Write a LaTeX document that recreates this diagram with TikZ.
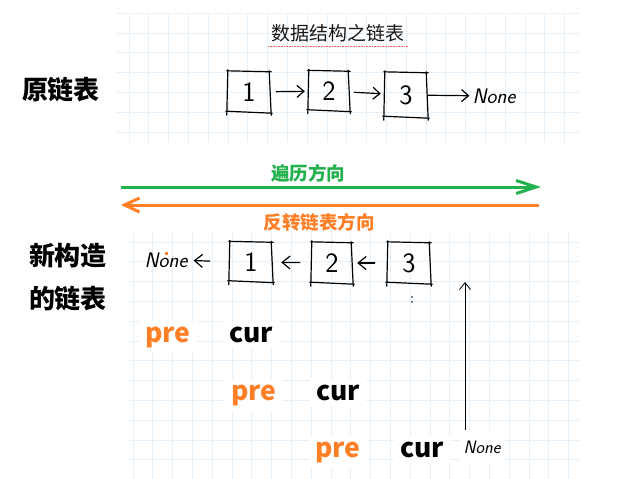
\documentclass[tikz,border=0pt]{standalone}
\usepackage{fontspec}
\newfontfamily\cjk{Noto Sans CJK SC}
\usetikzlibrary{arrows.meta,positioning}
\definecolor{tgreen}{RGB}{34,177,76}
\definecolor{torange}{RGB}{255,127,39}
\definecolor{gridblue}{RGB}{228,240,250}
\definecolor{titlegray}{RGB}{25,25,25}

\tikzset{
  hand/.style={line width=1.2pt, line cap=round, draw=black},
  sbox/.style={minimum width=40pt, minimum height=39pt, inner sep=0pt,
    font=\sffamily\fontsize{28}{28}\selectfont,
    append after command={\pgfextra{\let\bx\tikzlastnode}
      ([shift={(-1pt,1pt)}]\bx.north west) edge[hand] ([shift={(1pt,0pt)}]\bx.north east)
      ([shift={(0pt,2pt)}]\bx.north west) edge[hand] ([shift={(-1pt,-3pt)}]\bx.south west)
      ([shift={(-1pt,1pt)}]\bx.north east) edge[hand] ([shift={(1pt,-3pt)}]\bx.south east)
      ([shift={(-2pt,1pt)}]\bx.south west) edge[hand] ([shift={(2pt,-1pt)}]\bx.south east)}},
  handtext/.style={font=\sffamily\itshape\fontsize{21}{21}\selectfont, inner sep=1pt},
  harrow/.style={hand, -{Straight Barb[length=7pt,width=12pt]}},
  larrow/.style={hand, -{Straight Barb[length=8pt,width=13pt]}},
  heading/.style={font=\cjk\bfseries\fontsize{26}{26}\selectfont},
  dirlabel/.style={font=\cjk\bfseries\fontsize{18.5}{18.5}\selectfont},
  ptr/.style={font=\cjk\bfseries\fontsize{26.5}{26.5}\selectfont, fill=white,
    inner sep=6pt, anchor=base},
  gridline/.style={draw=gridblue, line width=0.7pt}
}

\begin{document}
\begin{tikzpicture}[x=1pt, y=-1pt]
  \fill[white] (0,0) rectangle (633,479);
  \useasboundingbox (0,0) rectangle (633,479);

  % graph paper
  \foreach \i in {0,...,22}
    \draw[gridline] ({129+19.8*\i},13) -- ({129+19.8*\i},142);
  \foreach \j in {0,...,6}
    \draw[gridline] (117,{13+19.9*\j}) -- (579,{13+19.9*\j});
  \foreach \i in {0,...,22}
    \draw[gridline] ({133+19.8*\i},233) -- ({133+19.8*\i},479);
  \foreach \j in {0,...,11}
    \draw[gridline] (130,{242+19.8*\j}) -- (579,{242+19.8*\j});

  % title
  \node[font=\cjk\fontsize{19}{19}\selectfont, text=titlegray] (title) at (338,33) {数据结构之链表};
  \draw[red!65, densely dotted, line width=0.6pt]
    ([yshift=-1pt]title.south west) -- ([yshift=-1pt]title.south east);

  % original list
  \node[heading] (orig) at (61,90) {原链表};
  \node[sbox, minimum width=42pt, minimum height=40pt] (t1) at (249,92) {1};
  \node[sbox] (t2) at (329,91) {2};
  \node[sbox, minimum width=42pt, minimum height=44pt] (t3) at (406,95) {3};
  \node[handtext] (tnone) at (494,96) {None};
  \draw[harrow, shorten <=6pt, shorten >=4pt] (t1) -- (t2);
  \draw[harrow, shorten <=5pt, shorten >=4pt] (t2) -- (t3);
  \draw[harrow, shorten <=1pt, shorten >=2pt] (t3) -- (tnone);

  % direction arrows
  \coordinate (gs) at (121,187);
  \coordinate (ge) at (541,187);
  \draw[tgreen, line width=3pt, -{Straight Barb[length=20pt,width=13pt]}] (gs) -- (ge);
  \node[dirlabel, text=tgreen] (walk) at (308,173) {遍历方向};
  \coordinate (os) at (539,205);
  \coordinate (oe) at (121,205);
  \draw[torange, line width=3pt, -{Straight Barb[length=15pt,width=14pt]}] (os) -- (oe);
  \node[dirlabel, text=torange] (rev) at (319,222) {反转链表方向};

  % new list
  \node[heading] (new1) at (68,256) {新构造};
  \node[heading] (new2) at (68,299) {的链表};
  \node[handtext] (bnone) at (166,260) {None};
  \node[sbox, minimum width=42pt] (c1) at (251,262) {1};
  \node[sbox, minimum height=40pt] (c2) at (332,263) {2};
  \node[sbox, minimum width=42pt, minimum height=40pt] (c3) at (409,263) {3};
  \draw[larrow, shorten <=20pt, shorten >=5pt] (c1) -- (bnone);
  \draw[larrow, shorten <=12pt, shorten >=9pt] (c2) -- (c1);
  \draw[larrow, shorten <=13pt, shorten >=5pt] (c3) -- (c2);
  \fill[torange] (165,252) rectangle (168,255);
  \fill (412,297) circle (0.8pt) (412,302) circle (0.8pt);

  % pointers
  \node[ptr, text=torange] (pre1) at (168,342) {pre};
  \node[ptr] (cur1) at (251,342) {cur};
  \node[ptr, text=torange] (pre2) at (254,400) {pre};
  \node[ptr] (cur2) at (338,400) {cur};
  \node[ptr, text=torange] (pre3) at (338,457) {pre};
  \node[ptr] (cur3) at (422,457) {cur};
  \node[handtext, font=\sffamily\itshape\fontsize{18}{18}\selectfont, fill=white,
    minimum height=34pt, minimum width=44pt] (bn3) at (482,447) {None};
  \coordinate (up) at (465,282);
  \draw[line width=0.8pt, -{Straight Barb[length=7pt,width=11pt]}] (bn3.north -| up) -- (up);
\end{tikzpicture}
\end{document}
